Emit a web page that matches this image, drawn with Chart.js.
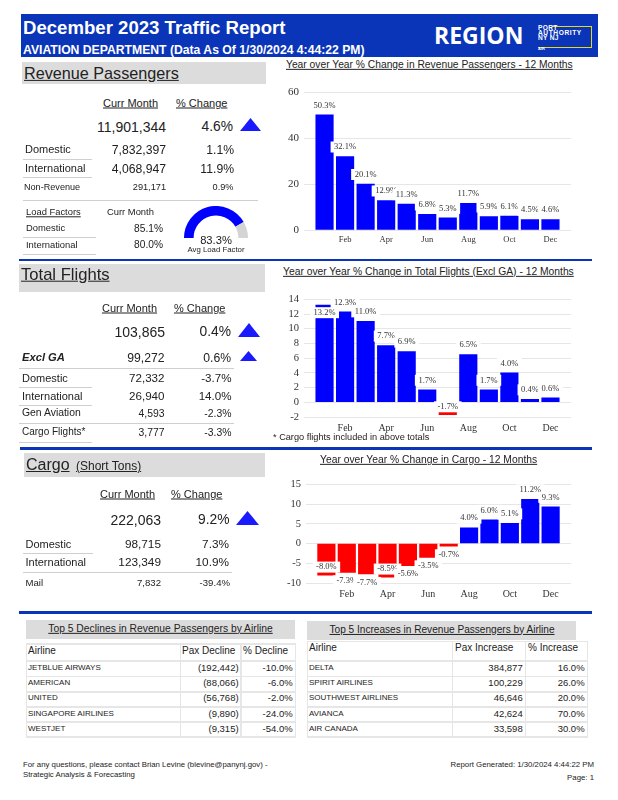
<!DOCTYPE html>
<html>
<head>
<meta charset="utf-8">
<title>December 2023 Traffic Report</title>
<script src="https://cdn.jsdelivr.net/npm/chart.js@4"></script>
<style>
    html, body { margin: 0; padding: 0; background: #fff; }
    #page { position: relative; width: 618px; height: 800px; overflow: hidden; font-family: "Liberation Sans", Arial, sans-serif; color: #222; }
    #page div, #page canvas { position: absolute; }
    .t { white-space: nowrap; line-height: 1; z-index: 5; }
</style>
</head>
<body>
<div id="page">
    <canvas id="revenueChart" width="306" height="169" style="left:270px;top:81px"></canvas>
    <canvas id="flightsChart" width="306" height="149" style="left:270px;top:288px"></canvas>
    <canvas id="cargoChart" width="304" height="130" style="left:272px;top:473px"></canvas>
    <canvas id="gaugeChart" width="64" height="32" style="left:184px;top:206px"></canvas>
</div>
<script>
// chart data
const months = ['Jan', 'Feb', 'Mar', 'Apr', 'May', 'Jun', 'Jul', 'Aug', 'Sep', 'Oct', 'Nov', 'Dec'];
const revenueChange = [50.3, 32.1, 20.1, 12.9, 11.3, 6.8, 5.3, 11.7, 5.9, 6.1, 4.5, 4.6];
const flightsChange = [13.2, 12.3, 11.0, 7.7, 6.9, 1.7, -1.7, 6.5, 1.7, 4.0, 0.4, 0.6];
const cargoChange = [-8.0, -7.3, -7.7, -8.5, -5.6, -3.5, -0.7, 4.0, 6.0, 5.1, 11.2, 9.3];
const gaugeValues = [83.3, 16.7];

// airline tables
const declineAirlines = ['JETBLUE AIRWAYS', 'AMERICAN', 'UNITED', 'SINGAPORE AIRLINES', 'WESTJET'];
const declinePax = ['(192,442)', '(88,066)', '(56,768)', '(9,890)', '(9,315)'];
const declinePct = ['-10.0%', '-6.0%', '-2.0%', '-24.0%', '-54.0%'];
const increaseAirlines = ['DELTA', 'SPIRIT AIRLINES', 'SOUTHWEST AIRLINES', 'AVIANCA', 'AIR CANADA'];
const increasePax = ['384,877', '100,229', '46,646', '42,624', '33,598'];
const increasePct = ['16.0%', '26.0%', '20.0%', '70.0%', '30.0%'];

const page = document.getElementById('page');

function txt(str, x, y, size, o = {}) {
    const el = document.createElement('div');
    el.className = 't';
    el.textContent = str;
    el.style.left = x + 'px';
    el.style.top = y + 'px';
    el.style.fontSize = size + 'px';
    const tx = o.align === 'right' ? '-100%' : o.align === 'center' ? '-50%' : '0';
    el.style.transform = `translate(${tx}, -50%)`;
    if (o.bold) el.style.fontWeight = 'bold';
    if (o.italic) el.style.fontStyle = 'italic';
    if (o.u) el.style.textDecoration = 'underline';
    if (o.color) el.style.color = o.color;
    if (o.font) el.style.fontFamily = o.font;
    if (o.spacing) el.style.letterSpacing = o.spacing + 'px';
    page.appendChild(el);
    return el;
}

function box(x, y, w, h, color) {
    const el = document.createElement('div');
    el.style.cssText = `left:${x}px;top:${y}px;width:${w}px;height:${h}px;background:${color}`;
    page.appendChild(el);
    return el;
}

function triangle(x, y, w, h) {
    box(x, y, w, h, '#1a1aff').style.clipPath = 'polygon(50% 0, 100% 100%, 0 100%)';
}

const RULE = '#cfcfcf', GREY = '#dcdcdc', NAVY = '#0a35b8', CELL = '#e6e6e6';

// header band
box(20.5, 14, 577, 43, NAVY);
txt('December 2023 Traffic Report', 23, 27.5, 18.6, { bold: true, color: '#fff' });
txt('AVIATION DEPARTMENT (Data As Of 1/30/2024 4:44:22 PM)', 23, 50, 12.2, { bold: true, color: '#fff' });
txt('REGION', 434, 34.5, 23, { bold: true, color: '#fff', font: '"Open Sans", sans-serif' });
txt('PORT', 538, 27.8, 6.6, { bold: true, color: '#fff', spacing: 0.3 });
txt('AUTHORITY', 538, 33, 6.6, { bold: true, color: '#fff', spacing: 0.6 });
txt('NY NJ', 538, 38.3, 6.6, { bold: true, color: '#fff', spacing: 0.3 });
txt('AIR', 538, 49, 4, { bold: true, color: '#fff' });
box(552, 25.5, 39.5, 1, '#e6d820');
box(591, 25.5, 1, 21.5, '#e6d820');
box(538, 46.5, 54, 1, '#e6d820');

// section separators
box(19, 258.5, 573, 2.5, NAVY);
box(20, 447, 572, 2.5, NAVY);
box(19, 611, 573, 2.5, NAVY);

// revenue passengers
box(22, 62, 244, 22, GREY);
txt('Revenue Passengers', 24, 73, 16.2, { u: true });
txt('Curr Month', 103, 103, 11, { u: true });
txt('% Change', 176, 103, 11, { u: true });
txt('11,901,344', 166, 127, 14, { align: 'right' });
txt('4.6%', 233, 127, 13.8, { align: 'right' });
triangle(240, 118, 21, 13);
txt('Domestic', 25, 149, 11);
txt('7,832,397', 166, 149.5, 12.2, { align: 'right' });
txt('1.1%', 234, 149.5, 12.2, { align: 'right' });
box(23, 158.5, 69, 1, RULE);
txt('International', 25, 168, 11);
txt('4,068,947', 166, 168.5, 12.2, { align: 'right' });
txt('11.9%', 234, 168.5, 12.2, { align: 'right' });
box(23, 177, 69, 1, RULE);
txt('Non-Revenue', 24, 187.5, 9.1);
txt('291,171', 166, 187.5, 9.2, { align: 'right' });
txt('0.9%', 233.5, 187.5, 9.2, { align: 'right' });
box(23, 199.5, 235, 1, RULE);
txt('Load Factors', 26, 212, 9.4, { u: true });
txt('Curr Month', 107, 212, 9.4);
txt('Domestic', 26, 228, 9.4);
txt('85.1%', 163, 228.5, 10.2, { align: 'right' });
box(23, 237, 73, 1, RULE);
txt('International', 26, 244.5, 9.4);
txt('80.0%', 163, 245, 10.2, { align: 'right' });
box(23, 254, 73, 1, RULE);
txt('83.3%', 216, 240.5, 11.2, { align: 'center' });
txt('Avg Load Factor', 216, 249.5, 7.8, { align: 'center' });

// total flights
box(19, 264, 246, 28, GREY);
txt('Total Flights', 21, 275, 16.6, { u: true });
txt('Curr Month', 102, 308, 11, { u: true });
txt('% Change', 174, 308, 11, { u: true });
txt('103,865', 165, 332, 14, { align: 'right' });
txt('0.4%', 231, 332, 13.8, { align: 'right' });
triangle(238, 323, 22, 14);
txt('Excl GA', 22, 358, 11.2, { bold: true, italic: true });
txt('99,272', 164.5, 358, 12.2, { align: 'right' });
txt('0.6%', 231, 358, 12.2, { align: 'right' });
triangle(240, 351, 17, 10);
box(19, 367.5, 215, 1, RULE);
txt('Domestic', 22, 377.5, 11);
txt('72,332', 164.5, 378, 11.6, { align: 'right' });
txt('-3.7%', 231.5, 378, 11.6, { align: 'right' });
box(19, 386.5, 73, 1, RULE);
txt('International', 22, 396, 11);
txt('26,940', 164.5, 396, 11.6, { align: 'right' });
txt('14.0%', 231.5, 396, 11.6, { align: 'right' });
box(19, 404.5, 73, 1, RULE);
txt('Gen Aviation', 22, 413, 10.4);
txt('4,593', 164.5, 414, 10.4, { align: 'right' });
txt('-2.3%', 231.5, 414, 10.4, { align: 'right' });
box(19, 422.5, 215, 1, RULE);
txt('Cargo Flights*', 22, 431.5, 10);
txt('3,777', 164.5, 433, 10.4, { align: 'right' });
txt('-3.3%', 231.5, 433, 10.4, { align: 'right' });
box(19, 441.5, 73, 1, RULE);
txt('* Cargo flights included in above totals', 273, 437.5, 9.2);

// cargo
box(24, 453, 241, 24, GREY);
txt('Cargo', 26, 465, 16, { u: true });
txt('(Short Tons)', 76, 466, 12, { u: true });
txt('Curr Month', 100, 494, 11, { u: true });
txt('% Change', 171, 494, 11, { u: true });
txt('222,063', 161, 520, 14, { align: 'right' });
txt('9.2%', 229.5, 520, 13.8, { align: 'right' });
triangle(236, 511, 23, 14);
txt('Domestic', 25.5, 544, 11);
txt('98,715', 161, 544.5, 11.8, { align: 'right' });
txt('7.3%', 229, 544.5, 11.8, { align: 'right' });
box(23, 553, 70, 1, RULE);
txt('International', 25.5, 562, 11);
txt('123,349', 161, 562.5, 11.8, { align: 'right' });
txt('10.9%', 229, 562.5, 11.8, { align: 'right' });
box(23, 571.5, 209, 1, RULE);
txt('Mail', 25.5, 583, 9.6);
txt('7,832', 161, 583, 9.6, { align: 'right' });
txt('-39.4%', 230, 583, 9.6, { align: 'right' });

// chart titles
txt('Year over Year % Change in Revenue Passengers - 12 Months', 286, 65, 10.28, { u: true });
txt('Year over Year % Change in Total Flights (Excl GA) - 12 Months', 283, 272, 10.3, { u: true });
txt('Year over Year % Change in Cargo - 12 Months', 320, 460, 10.3, { u: true });

// airline tables
function airlineTable(x, colEdges, head, headY, headTop, airlines, pax, pct, paxRight, pctRight, headX) {
    const right = colEdges[colEdges.length - 1];
    const rowLines = [660, 675.5, 691, 706, 721, 736];
    box(x, headTop, right - x, 1.5, CELL);
    rowLines.forEach(y => box(x, y, right - x, 1.5, CELL));
    colEdges.forEach(cx => box(cx, headTop, 1.5, 736 - headTop + 1.5, CELL));
    txt(head[0], x + 2.5, headY, 10);
    txt(head[1], headX[0], headY, 10);
    txt(head[2], headX[1], headY, 10);
    airlines.forEach((name, i) => {
        const y = 668 + i * 15.2;
        txt(name, x + 2.5, y, 8);
        txt(pax[i], paxRight, y, 9.5, { align: 'right' });
        txt(pct[i], pctRight, y, 9.5, { align: 'right' });
    });
}

box(25.5, 620, 269.5, 19, GREY);
txt('Top 5 Declines in Revenue Passengers by Airline', 160.5, 628.5, 10.3, { align: 'center', u: true });
airlineTable(25.5, [25.5, 179.5, 240, 294.5], ['Airline', 'Pax Decline', '% Decline'], 651, 643,
    declineAirlines, declinePax, declinePct, 238.6, 292.7, [182, 243]);

box(306.5, 620.5, 269.5, 19, GREY);
txt('Top 5 Increases in Revenue Passengers by Airline', 442, 629.5, 10.1, { align: 'center', u: true });
airlineTable(306.5, [306.5, 451.7, 524.6, 586.5], ['Airline', 'Pax Increase', '% Increase'], 648, 640.5,
    increaseAirlines, increasePax, increasePct, 522.7, 584.6, [455, 528]);

// footer
txt('For any questions, please contact Brian Levine (blevine@panynj.gov) -', 23, 765, 7.8);
txt('Strategic Analysis & Forecasting', 23, 775, 7.8);
txt('Report Generated: 1/30/2024 4:44:22 PM', 594, 765, 7.8, { align: 'right' });
txt('Page: 1', 594, 778, 7.8, { align: 'right' });

// value labels with a white plate, flipped back inside when they would leave the plot
const barLabels = {
    id: 'barLabels',
    afterDatasetsDraw(chart) {
        const { ctx, chartArea } = chart;
        const meta = chart.getDatasetMeta(0);
        ctx.save();
        ctx.font = '8.5px "Liberation Serif", serif';
        ctx.textAlign = 'center';
        ctx.textBaseline = 'middle';
        meta.data.forEach((bar, i) => {
            const v = chart.data.datasets[0].data[i];
            if (v == null) return;
            let y = v >= 0 ? bar.y - 9.5 : bar.y + 8.5;
            if (y < chartArea.top) y = bar.y + 7.5;
            if (y > chartArea.bottom) y = bar.y - 8;
            const s = v.toFixed(1) + '%';
            const w = ctx.measureText(s).width + 7;
            ctx.fillStyle = '#fff';
            ctx.fillRect(bar.x - w / 2, y - 5.5, w, 11);
            ctx.fillStyle = '#333';
            ctx.fillText(s, bar.x, y);
        });
        ctx.restore();
    }
};

function drawBars(id, values, yMin, yMax, step, yFont, xFont) {
    // blank slots either side leave the gridlines running past the first and last bar
    const labels = ['', ...months, ''];
    const ctx = document.getElementById(id).getContext('2d');
    return new Chart(ctx, {
        type: 'bar',
        data: {
            labels: labels,
            datasets: [{
                data: [null, ...values, null],
                backgroundColor: c => (c.raw < 0 ? '#ff0000' : '#0000ff'),
                barThickness: 17.5,
            }]
        },
        options: {
            responsive: false,
            animation: false,
            layout: { padding: { top: 10, right: 1, left: 0, bottom: 0 } },
            plugins: { legend: { display: false }, tooltip: { enabled: false } },
            scales: {
                x: {
                    offset: false,
                    grid: { display: false, drawTicks: false },
                    border: { display: false },
                    afterFit: s => { s.height = 20; },
                    ticks: {
                        autoSkip: false,
                        maxRotation: 0,
                        padding: 5,
                        color: '#333',
                        font: { family: '"Liberation Serif", serif', size: xFont },
                        callback: (val, i) => (i % 2 === 0 ? labels[i] : ''),
                    }
                },
                y: {
                    min: yMin,
                    max: yMax,
                    grid: { color: '#e6e6e6', drawTicks: false },
                    border: { display: false },
                    afterFit: s => { s.width = 34; },
                    ticks: {
                        stepSize: step,
                        autoSkip: false,
                        padding: 5,
                        color: '#333',
                        font: { family: '"Liberation Serif", serif', size: yFont },
                    }
                }
            }
        },
        plugins: [barLabels]
    });
}

drawBars('revenueChart', revenueChange, 0, 60, 20, 11, 8.5);
drawBars('flightsChart', flightsChange, -2, 14, 2, 10.5, 10);
drawBars('cargoChart', cargoChange, -10, 15, 5, 10.5, 10);

// average load factor gauge
new Chart(document.getElementById('gaugeChart').getContext('2d'), {
    type: 'doughnut',
    data: {
        datasets: [{
            data: gaugeValues,
            backgroundColor: ['#0000ff', '#d4d4d4'],
            borderWidth: 0,
        }]
    },
    options: {
        responsive: false,
        animation: false,
        rotation: -90,
        circumference: 180,
        cutout: '70%',
        plugins: { legend: { display: false }, tooltip: { enabled: false } },
    }
});
</script>
</body>
</html>
